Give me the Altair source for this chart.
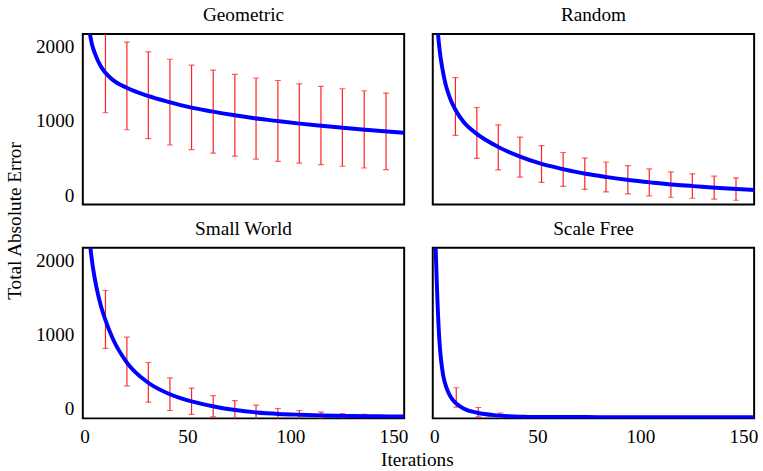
import altair as alt
import pandas as pd

FONT = "Liberation Serif"
FS = 19.5

# ---- data ----
bar_x = [10.2, 20.6, 31.0, 41.5, 52.0, 62.5, 73.0, 83.3, 93.9, 104.3, 114.8, 125.2, 135.8, 146.4]
sf_bar_x = [10.6, 21.3, 32.1, 43.5, 54.3, 65.5, 76.4, 87.5, 98.6, 109.4, 120.6, 131.5, 142.5, 153.3]

geo_top = [2210, 2060, 1928, 1829, 1750, 1684, 1626, 1577, 1543, 1498, 1463, 1432, 1405, 1374]
geo_bot = [1109, 880, 760, 675, 614, 565, 525, 486, 455, 432, 410, 389, 366, 344]
geo_cx = [2.5, 3.7, 5.3, 7.7, 10.1, 14.0, 20.5, 30.8, 41.2, 50.8, 61.8, 72.2, 82.6, 93.0,
          103.4, 113.7, 124.1, 134.8, 145.5, 155.0]
geo_cy = [2193, 2024, 1892, 1745, 1650, 1545, 1445, 1335, 1252, 1185, 1127, 1078, 1035, 1000,
          966, 937, 910, 884, 860, 840]

rnd_top = [1583, 1180, 946, 782, 667, 574, 499, 446, 397, 353, 313, 287, 256, 233]
rnd_bot = [804, 495, 340, 243, 171, 118, 78, 44, 17, -9, -28, -41, -54, -68]
rnd_cx = [1.7, 2.6, 3.8, 5.4, 7.4, 10.2, 14.1, 20.6, 30.9, 41.3, 50.9, 62.9, 73.3, 83.9,
          94.3, 104.9, 115.2, 125.6, 136.3, 146.7, 155.5]
rnd_cy = [2180, 1936, 1715, 1494, 1317, 1150, 987, 825, 650, 522, 430, 348, 288, 243,
          205, 172, 143, 122, 100, 82, 70]

sw_top = [1596, 968, 627, 419, 283, 180, 114, 53, 8, -19, -40, -62, -72, -85]
sw_bot = [817, 313, 93, -19, -72, -106, -140, -143, -138, -133, -130, -120, -120, -111]
sw_cx = [2.9, 4.2, 5.7, 7.7, 10.1, 14.0, 20.5, 30.8, 41.2, 52.4, 62.8, 73.2, 83.5, 94.4,
         104.6, 115.5, 125.9, 136.2, 147.0, 155.2]
sw_cy = [2163, 1890, 1655, 1419, 1205, 933, 630, 358, 203, 100, 35, -13, -45, -65,
         -76, -85, -91, -96, -98, -100]

sf_top = [287, 21, -53, -85, -93, -98, -100, -101, -102, -102, -103, -103, -103, -103]
sf_bot = [27, -106, -150, -150, -150, -150, -150, -150, -150, -150, -150, -150, -150, -150]
sf_cx = [0.6, 1.1, 1.6, 2.4, 3.2, 4.3, 6.1, 8.0, 10.4, 14.4, 20.8, 30.4, 41.5, 51.1,
         80.0, 120.0, 155.2]
sf_cy = [2170, 1740, 1374, 933, 667, 446, 269, 159, 80, 4, -49, -85, -102, -106,
         -108, -109, -110]

titles = ["Geometric", "Random", "Small World", "Scale Free"]
x_ticks = [0, 50, 100, 150]
y_ticks = [0, 1000, 2000]
y_title = "Total Absolute Error"
x_title = "Iterations"

X_DOM = [-0.8, 155.2]
Y_DOM = [-125, 2170]
W, H = 326, 173

# ---- build one long table ----
rows = []
specs = [
    (titles[0], geo_cx, geo_cy, bar_x, geo_top, geo_bot),
    (titles[1], rnd_cx, rnd_cy, bar_x, rnd_top, rnd_bot),
    (titles[2], sw_cx, sw_cy, bar_x, sw_top, sw_bot),
    (titles[3], sf_cx, sf_cy, sf_bar_x, sf_top, sf_bot),
]
for name, cx, cy, bx, bt, bb in specs:
    for i, (a, b) in enumerate(zip(cx, cy)):
        rows.append({"panel": name, "kind": "curve", "order": i, "x": a, "y": b})
    for a, t, b in zip(bx, bt, bb):
        rows.append({"panel": name, "kind": "bar", "x": a, "top": t, "bot": b})
df = pd.DataFrame(rows)

xs = alt.Scale(domain=X_DOM, nice=False, zero=False)
ys = alt.Scale(domain=Y_DOM, nice=False, zero=False)
xa = alt.Axis(values=x_ticks, format="d", ticks=False, domain=False, grid=False, title=None,
              labelFont=FONT, labelFontSize=FS, labelColor="black",
              labelPadding=8, labelFlush=False, labelOverlap=False)
ya = alt.Axis(values=y_ticks, format="d", ticks=False, domain=False, grid=False, title=None,
              labelFont=FONT, labelFontSize=FS, labelColor="black",
              labelPadding=8, labelFlush=False, labelOverlap=False)

base = alt.Chart()
RED = "#ff2020"
rules = base.mark_rule(color=RED, strokeWidth=1.2, clip=True).encode(
    x=alt.X("x:Q", scale=xs, axis=xa),
    y=alt.Y("top:Q", scale=ys, axis=ya),
    y2="bot:Q",
).transform_filter(alt.datum.kind == "bar")
cap_t = base.mark_tick(color=RED, orient="horizontal", size=6, thickness=1.2, clip=True).encode(
    x=alt.X("x:Q", scale=xs), y=alt.Y("top:Q", scale=ys)
).transform_filter(alt.datum.kind == "bar")
cap_b = base.mark_tick(color=RED, orient="horizontal", size=6, thickness=1.2, clip=True).encode(
    x=alt.X("x:Q", scale=xs), y=alt.Y("bot:Q", scale=ys)
).transform_filter(alt.datum.kind == "bar")
line = base.mark_line(color="#0000ff", strokeWidth=4, interpolate="monotone", clip=True).encode(
    x=alt.X("x:Q", scale=xs), y=alt.Y("y:Q", scale=ys), order="order:Q"
).transform_filter(alt.datum.kind == "curve")

layered = alt.layer(rules, cap_t, cap_b, line, data=df).properties(width=W, height=H)

fac = layered.facet(
    facet=alt.Facet("panel:N", sort=titles,
                    header=alt.Header(title=None, labelFont=FONT, labelFontSize=FS,
                                      labelColor="black", labelPadding=9)),
    columns=2,
    spacing={"row": 12, "column": 27},
).properties(
    title=alt.TitleParams(x_title, orient="bottom", font=FONT, fontSize=FS,
                          fontWeight="normal", color="black", frame="bounds",
                          anchor="middle", offset=6, dx=21)
)

chart = alt.vconcat(
    fac,
    title=alt.TitleParams(y_title, orient="left", font=FONT, fontSize=FS,
                          fontWeight="normal", color="black", frame="bounds",
                          anchor="middle", offset=10, dx=16),
).properties(
    padding={"left": 5, "top": 0, "right": 5, "bottom": 0}
).configure(background="white", view=alt.ViewConfig(stroke="black", strokeWidth=2))

chart.save("out.html", embed_options={"renderer": "svg", "actions": False})
